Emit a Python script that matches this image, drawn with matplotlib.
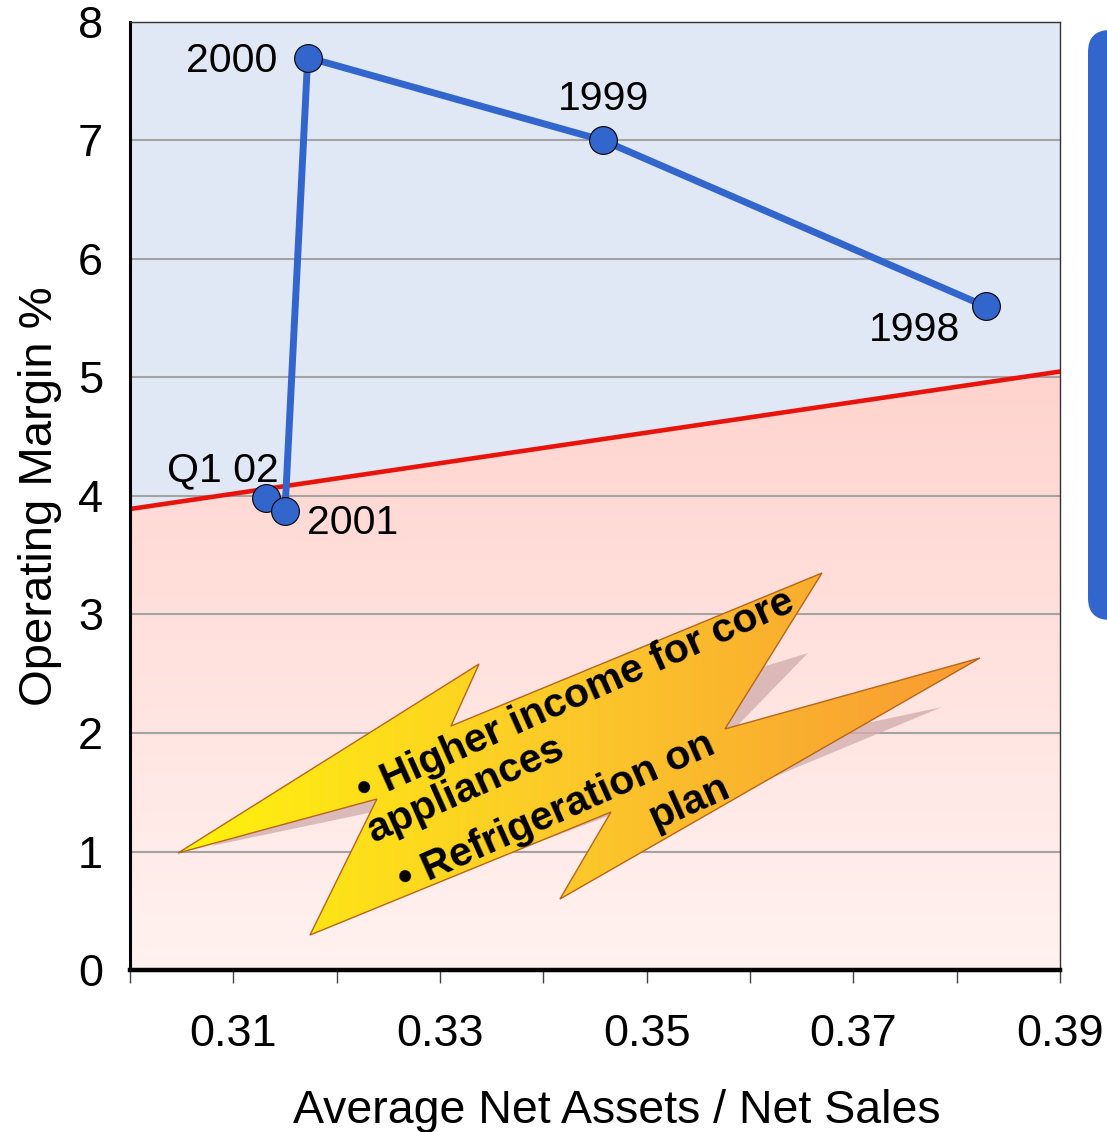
import numpy as np
import matplotlib
matplotlib.use('Agg')
import matplotlib.pyplot as plt
from matplotlib.patches import Polygon, FancyBboxPatch
from matplotlib.colors import LinearSegmentedColormap
from matplotlib.transforms import IdentityTransform

plt.rcParams['font.family'] = ['Liberation Sans', 'DejaVu Sans']

# data
years = ['1998', '1999', '2000', '2001', 'Q1 02']
asset_ratio = [0.3828, 0.3458, 0.3172, 0.3150, 0.3132]
op_margin = [5.60, 7.00, 7.70, 3.87, 3.98]

hurdle_x = [0.30, 0.39]
hurdle_y = [3.89, 5.05]

x_major = [0.31, 0.33, 0.35, 0.37, 0.39]
x_minor = [0.30, 0.32, 0.34, 0.36, 0.38]
x_labels = ['0.31', '0.33', '0.35', '0.37', '0.39']
y_ticks = [0, 1, 2, 3, 4, 5, 6, 7, 8]

# label placement (offset in points, alignment)
label_pos = {
    '1998': ((-18, -25), 'right'),
    '1999': ((0, 21.6), 'center'),
    '2000': ((-21.5, -10.1), 'right'),
    '2001': ((15.8, -16.6), 'left'),
    'Q1 02': ((8.6, 12.2), 'right'),
}

# lightning bolt callout (decoration)
bolt_x = [0.30465, 0.33378, 0.33107, 0.36697, 0.35758, 0.38226, 0.34161, 0.34655, 0.31742, 0.32390]
bolt_y = [0.987, 2.582, 2.059, 3.350, 2.034, 2.633, 0.599, 1.333, 0.295, 1.443]
shadow_x = [0.30784, 0.33523, 0.33232, 0.36561, 0.35584, 0.37858, 0.36068, 0.34190,
            0.34655, 0.31819, 0.32536]
shadow_y = [1.046, 2.127, 1.781, 2.675, 1.797, 2.219, 1.570, 0.633, 1.308, 0.380, 1.367]
bolt_text = ['\u2022 Higher income for core', 'appliances', '\u2022 Refrigeration on', 'plan']
text_x = [0.32260, 0.32352, 0.32657, 0.35081]
text_y = [1.409, 1.072, 0.658, 1.181]

fig = plt.figure(figsize=(11.07, 11.32), dpi=100)
ax = fig.add_axes([0.1174, 0.1431, 0.8401, 0.8375])

# background: pink gradient below the hurdle line, flat blue above
pink = LinearSegmentedColormap.from_list('pinkgrad', ['#fff2f0', '#ffd3ce'])
ax.set_facecolor('#ffd3ce')
ax.imshow(np.linspace(0, 1, 256).reshape(-1, 1), extent=[0.30, 0.39, 0, 5.1],
          origin='lower', cmap=pink, aspect='auto', zorder=0.2)
ax.fill_between(hurdle_x, hurdle_y, 8, color='#e0e8f6', lw=0, zorder=0.3)

ax.set_axisbelow(True)
ax.grid(axis='y', color='#a3a3a3', lw=1.5)

# bolt shadow, bolt, gradient fill
ax.add_patch(Polygon(np.column_stack([shadow_x, shadow_y]), closed=True,
                     fc='#d2afaf', ec='none', alpha=0.8, zorder=1))
pts = np.column_stack([bolt_x, bolt_y])
bolt = Polygon(pts, closed=True, fc='#fff30c', ec='none', zorder=1.2)
ax.add_patch(bolt)
bolt_cmap = LinearSegmentedColormap.from_list('bolt', ['#fff30c', '#fcc82a', '#f89a33'])
im = ax.imshow(np.linspace(0, 1, 256).reshape(1, -1),
               extent=[min(bolt_x), max(bolt_x), min(bolt_y), max(bolt_y)],
               cmap=bolt_cmap, aspect='auto', zorder=1.3)
im.set_clip_path(bolt)
ax.add_patch(Polygon(pts, closed=True, fc='none', ec='#b8641c', lw=1, zorder=1.4))

for txt, tx, ty in zip(bolt_text, text_x, text_y):
    ax.text(tx, ty, txt, rotation=24, rotation_mode='anchor', ha='left', va='baseline',
            fontsize=29.5, fontweight='bold', color='black', zorder=1.5)

# hurdle line
ax.plot(hurdle_x, hurdle_y, color='#e8140c', lw=3.3, zorder=2)

# trajectory
ax.plot(asset_ratio, op_margin, color='#3366cc', lw=5, zorder=3)
ax.plot(asset_ratio[::-1], op_margin[::-1], 'o', ms=20, mfc='#3366cc', mec='black',
        mew=0.8, zorder=4)

for yr, xv, yv in zip(years, asset_ratio, op_margin):
    off, ha = label_pos[yr]
    ax.annotate(yr, (xv, yv), xytext=off, textcoords='offset points', ha=ha,
                va='baseline', fontsize=29.5, zorder=5)

ax.set_xlim(0.30, 0.39)
ax.set_ylim(0, 8)
ax.set_xticks(x_major)
ax.set_xticklabels(x_labels)
ax.set_xticks(x_minor, minor=True)
ax.set_yticks(y_ticks)
ax.tick_params(axis='x', which='both', direction='out', length=9, width=1,
               color='#444444', pad=23, labelsize=32.5)
ax.tick_params(axis='y', length=0, pad=19.5, labelsize=32.5)

ax.spines['left'].set_linewidth(2.2)
ax.spines['bottom'].set_linewidth(3.2)
for s in ['top', 'right']:
    ax.spines[s].set_linewidth(1)
    ax.spines[s].set_color('#333333')

ax.set_xlabel('Average Net Assets / Net Sales', fontsize=33.5, va='baseline')
ax.xaxis.set_label_coords(0.5237, -0.1614)
ax.set_ylabel('Operating Margin %', fontsize=34, va='center')
ax.yaxis.set_label_coords(-0.0968, 0.5)

# blue panel cut off at the right edge
fig.add_artist(FancyBboxPatch((1088, 512), 60, 590, boxstyle='round,pad=0,rounding_size=22',
                              transform=IdentityTransform(), fc='#3366cc', ec='none'))

fig.savefig('out.png', dpi=100)
